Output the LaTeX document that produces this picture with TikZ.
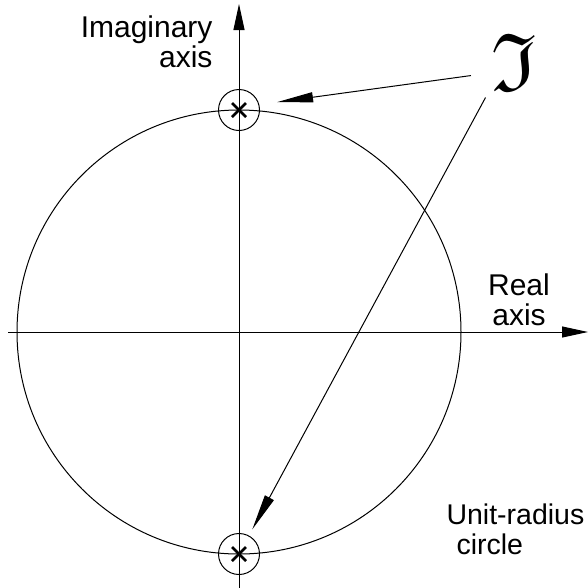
\documentclass[tikz,border=0pt]{standalone}
\usepackage{amssymb}
\usepackage{fontspec}
\setmainfont{Liberation Sans}
\usetikzlibrary{arrows.meta}

\begin{document}
\begin{tikzpicture}[x=1pt, y=-1pt, line width=1pt,
    axis text/.style={font=\fontsize{30}{30}\selectfont, inner sep=0pt},
    pole/.style={circle, draw, minimum size=41pt, inner sep=0pt},
    axis tip/.style={-{Triangle[length=26pt, width=11pt]}},
    pointer/.style={-{Triangle[length=36pt, width=10pt]}}]
  \useasboundingbox (0,0) rectangle (588,587);
  \draw (239,332) circle[radius=222];
  \draw[axis tip] (8,332) -- (588,332);
  \draw[axis tip] (239,592) -- (239,4);
  \node[pole] (top) at (239,110) {};
  \node[pole] (bot) at (239,554) {};
  \foreach \p in {top,bot}
    \draw[line width=2.6pt] ([shift={(-7,-7)}]\p.center) -- ([shift={(7,7)}]\p.center)
      ([shift={(-7,7)}]\p.center) -- ([shift={(7,-7)}]\p.center);
  \node[inner sep=0pt] (fr) at (514,62) {\fontsize{82}{82}\selectfont$\mathfrak{I}$};
  \draw[pointer, shorten <=20pt, shorten >=18pt] (fr.205) -- (top.15);
  \draw[pointer, shorten <=11pt, shorten >=7pt] (fr.228) -- (bot);
  \node[axis text, align=right, anchor=north east] (imag) at (213,15) {Imaginary\\axis};
  \node[axis text, align=center, anchor=north] (real) at (519,273) {Real\\axis};
  \node[axis text, font=\fontsize{28.5}{30}\selectfont, align=left, anchor=north west]
    (unit) at (446,503) {Unit-radius\\\hspace*{10pt}circle};
\end{tikzpicture}
\end{document}
